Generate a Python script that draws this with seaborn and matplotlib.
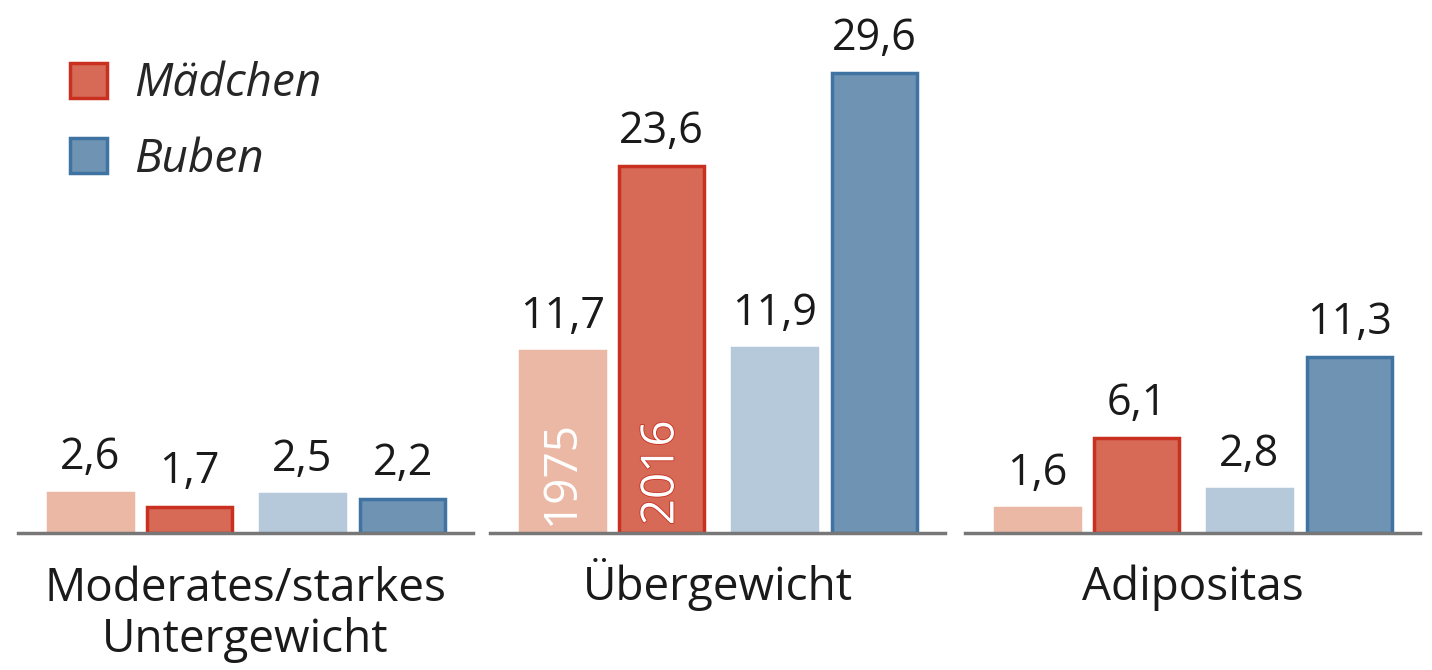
import numpy as np
import pandas as pd
import matplotlib
matplotlib.use("Agg")
import matplotlib.pyplot as plt
import matplotlib.patheffects as pe
from matplotlib.patches import Patch
import seaborn as sns

# values (percent)
categories = ["Moderates/starkes\nUntergewicht", "Übergewicht", "Adipositas"]
groups = ["Mädchen 1975", "Mädchen 2016", "Buben 1975", "Buben 2016"]
maedchen_1975 = [2.6, 11.7, 1.6]
maedchen_2016 = [1.7, 23.6, 6.1]
buben_1975 = [2.5, 11.9, 2.8]
buben_2016 = [2.2, 29.6, 11.3]
year_labels = ["1975", "2016"]
legend_labels = ["Mädchen", "Buben"]

# layout / style (not data)
slots = [0.0, 1.0, 2.14, 3.15]
fills = ["#EBB8A6", "#D66A56", "#B5C9DB", "#6F93B3"]
edges = ["#EBB8A6", "#C9301F", "#B5C9DB", "#3F74A2"]

sns.set_theme(style="white")
plt.rcParams["font.family"] = ["Open Sans", "DejaVu Sans"]

series = [maedchen_1975, maedchen_2016, buben_1975, buben_2016]
rows = []
for ci, cat in enumerate(categories):
    for gi, grp in enumerate(groups):
        rows.append({"kategorie": cat, "gruppe": grp, "slot": slots[gi],
                     "wert": series[gi][ci]})
df = pd.DataFrame(rows)

fig = plt.figure(figsize=(14.32, 6.70), dpi=100)
W, H = 1432, 670
lefts = [18, 490, 965]
ax_w = 455
base_y = 533

for ci, cat in enumerate(categories):
    ax = fig.add_axes([lefts[ci] / W, (H - base_y) / H, ax_w / W, base_y / H])
    sub = df[df["kategorie"] == cat]
    sns.barplot(data=sub, x="slot", y="wert", hue="gruppe", hue_order=groups,
                palette=dict(zip(groups, fills)), native_scale=True,
                dodge=False, width=0.86, legend=False, ax=ax,
                linewidth=2.5, saturation=1)
    for cont, ec in zip(ax.containers, edges):
        for bar in cont:
            bar.set_edgecolor(ec)
        vals = [b.get_height() for b in cont]
        ax.bar_label(cont, labels=[f"{v:.1f}".replace(".", ",") for v in vals],
                     padding=9, fontsize=31, color="#1a1a1a")
    ax.set_xlim(-0.73, 3.86)
    ax.set_ylim(0, 34.3)
    for s in ["top", "right", "left"]:
        ax.spines[s].set_visible(False)
    ax.spines["bottom"].set_color("#777777")
    ax.spines["bottom"].set_linewidth(2.5)
    ax.set_xticks([])
    ax.set_yticks([])
    ax.set_ylabel("")
    ax.set_xlabel("")

    # category name below the baseline: first line baseline ~600 px,
    # following lines 52 px apart (va='baseline' anchors the last line)
    last_base = 600 + 52 * cat.count("\n")
    ax.text(0.5, -(last_base - base_y) / base_y, cat, transform=ax.transAxes,
            ha="center", va="baseline", fontsize=33, color="#1a1a1a",
            linespacing=1.15)

    if ci == 1:
        for cont, yl in zip(ax.containers[:2], year_labels):
            bar = cont[0]
            txt = ax.text(bar.get_x() + bar.get_width() / 2, 0.5, yl, rotation=90,
                          ha="center", va="bottom", color="white", fontsize=33)
            if yl == "2016":
                txt.set_path_effects([pe.withStroke(linewidth=1.2, foreground="#C9301F")])

    if ci == 0:
        handles = [Patch(facecolor=fills[1], edgecolor=edges[1], linewidth=2.5),
                   Patch(facecolor=fills[3], edgecolor=edges[3], linewidth=2.5)]
        leg = ax.legend(handles, legend_labels, loc="upper left",
                        bbox_to_anchor=(52 / ax_w, 1 - 61 / base_y), frameon=False,
                        borderaxespad=0, borderpad=0,
                        handlelength=0.8, handleheight=0.8, handletextpad=0.6,
                        labelspacing=0.65, prop={"size": 33, "style": "italic"})

fig.savefig("out.png", dpi=100)
